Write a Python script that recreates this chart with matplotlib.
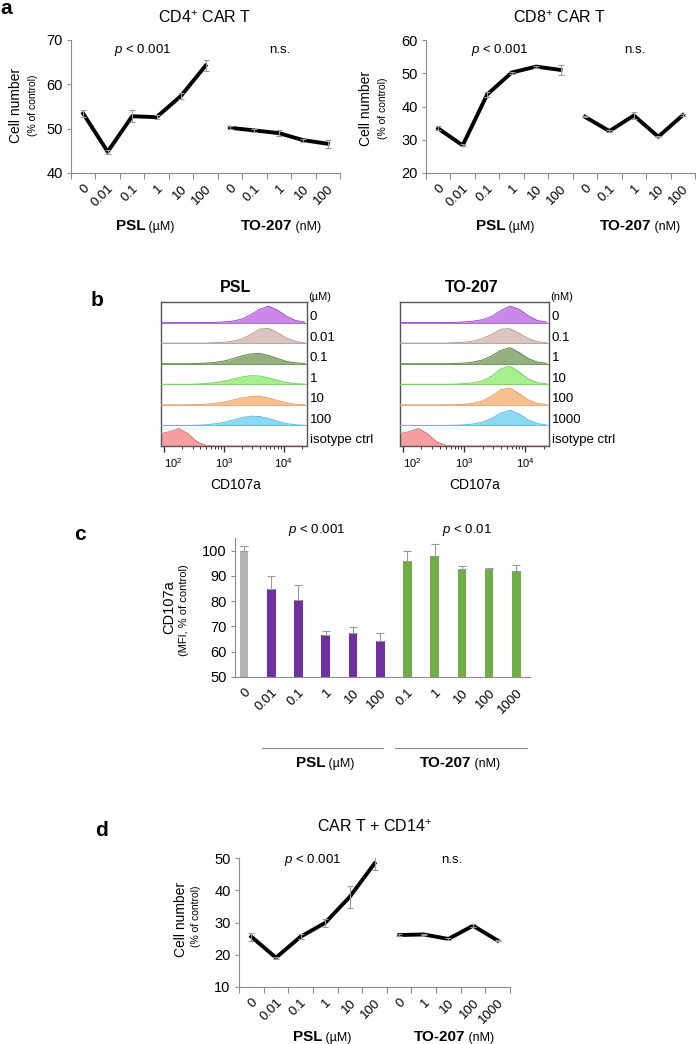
import matplotlib
matplotlib.use('Agg')
import matplotlib.pyplot as plt
import numpy as np
from matplotlib.ticker import FixedLocator, NullFormatter

plt.rcParams['font.family'] = ['Liberation Sans', 'DejaVu Sans']
plt.rcParams['mathtext.fontset'] = 'custom'
plt.rcParams['mathtext.rm'] = 'Liberation Sans'
plt.rcParams['mathtext.it'] = 'Liberation Sans:italic'
plt.rcParams['mathtext.bf'] = 'Liberation Sans:bold'

# ---------------- data ----------------
a_labels = ["0", "0.01", "0.1", "1", "10", "100", "0", "0.1", "1", "10", "100"]
cd4_psl = [53.4, 44.8, 52.8, 52.6, 57.4, 64.2]
cd4_psl_err = [0.7, 0.5, 1.3, 0.5, 0.6, 1.3]
cd4_to = [50.2, 49.6, 49.0, 47.4, 46.6]
cd4_to_err = [0.3, 0.3, 0.6, 0.3, 0.9]

cd8_psl = [33.4, 28.3, 43.6, 50.2, 52.0, 51.0]
cd8_psl_err = [0.6, 0.3, 0.7, 0.3, 0.3, 1.4]
cd8_to = [36.9, 32.6, 37.3, 30.9, 37.4]
cd8_to_err = [0.2, 0.3, 1.0, 0.2, 0.3]

b_psl_rows = ["0", "0.01", "0.1", "1", "10", "100", "isotype ctrl"]
b_to_rows = ["0", "0.1", "1", "10", "100", "1000", "isotype ctrl"]
hist_x = [89, 126, 178, 251, 355, 501, 708, 1000, 1413, 1995, 2818, 3981,
          5623, 7943, 11220, 15849, 22387]
psl_hist = [
    [0, 0, 0, 0, 0, 0, 0.01, 0.03, 0.07, 0.17, 0.38, 0.65, 0.80, 0.60, 0.30, 0.10, 0.03],
    [0, 0, 0, 0, 0, 0, 0.02, 0.04, 0.09, 0.20, 0.42, 0.68, 0.72, 0.50, 0.24, 0.08, 0.02],
    [0, 0, 0, 0, 0.01, 0.03, 0.06, 0.13, 0.24, 0.38, 0.48, 0.50, 0.40, 0.25, 0.11, 0.04, 0.01],
    [0, 0, 0, 0, 0.01, 0.04, 0.08, 0.15, 0.25, 0.36, 0.42, 0.40, 0.31, 0.19, 0.09, 0.03, 0.01],
    [0, 0, 0, 0, 0.01, 0.03, 0.07, 0.13, 0.23, 0.34, 0.41, 0.42, 0.33, 0.21, 0.10, 0.03, 0.01],
    [0, 0, 0, 0, 0.01, 0.03, 0.08, 0.15, 0.26, 0.38, 0.45, 0.43, 0.34, 0.20, 0.09, 0.03, 0.01],
    [0.60, 0.70, 0.85, 0.60, 0.20, 0.03, 0, 0, 0, 0, 0, 0, 0, 0, 0, 0, 0],
]
to_hist = [
    [0, 0, 0, 0, 0, 0, 0.01, 0.03, 0.07, 0.14, 0.30, 0.58, 0.80, 0.65, 0.33, 0.10, 0.03],
    [0, 0, 0, 0, 0, 0, 0.02, 0.04, 0.10, 0.22, 0.42, 0.68, 0.70, 0.48, 0.22, 0.07, 0.02],
    [0, 0, 0, 0, 0, 0, 0.01, 0.03, 0.08, 0.18, 0.38, 0.65, 0.78, 0.55, 0.25, 0.08, 0.02],
    [0, 0, 0, 0, 0, 0, 0.01, 0.03, 0.07, 0.17, 0.40, 0.75, 0.88, 0.60, 0.26, 0.08, 0.02],
    [0, 0, 0, 0, 0, 0, 0.01, 0.03, 0.08, 0.19, 0.42, 0.74, 0.82, 0.55, 0.24, 0.07, 0.02],
    [0, 0, 0, 0, 0, 0, 0.01, 0.03, 0.07, 0.16, 0.34, 0.60, 0.74, 0.56, 0.27, 0.09, 0.02],
    [0.60, 0.70, 0.85, 0.60, 0.20, 0.03, 0, 0, 0, 0, 0, 0, 0, 0, 0, 0, 0],
]
hist_fill = ['#cc88e8', '#dcc4c0', '#93b07e', '#a6ee8e', '#f8c090', '#90d8f2', '#f5a0a0']
hist_edge = ['#a050c8', '#b89c98', '#5f8a48', '#78d060', '#e8a068', '#58c0e8', '#e07070']

c_labels = ["0", "0.01", "0.1", "1", "10", "100", "0.1", "1", "10", "100", "1000"]
c_vals = [100, 85.0, 80.4, 66.8, 67.5, 64.4, 95.8, 98.0, 92.8, 92.8, 91.9]
c_err = [2.0, 4.8, 6.0, 1.3, 2.2, 3.1, 3.9, 4.8, 1.0, 0.4, 2.5]
c_colors = ['#b3b3b3'] + ['#7030a0'] * 5 + ['#70ad47'] * 5

d_labels = ["0", "0.01", "0.1", "1", "10", "100", "0", "1", "10", "100", "1000"]
d_psl = [25.6, 19.1, 25.6, 29.9, 38.0, 48.3]
d_psl_err = [1.2, 0.3, 0.8, 1.2, 3.4, 1.9]
d_to = [26.1, 26.3, 24.9, 29.0, 24.4]
d_to_err = [0.2, 0.2, 0.4, 0.5, 0.2]

# ---------------- layout helpers ----------------
W, H = 696, 1044
fig = plt.figure(figsize=(W / 100, H / 100), dpi=100)
SP = '#8c8c8c'
ERR = '#9a9a9a'


def rect(l, t, r, b):
    return [l / W, 1 - b / H, (r - l) / W, (b - t) / H]


def ftext(x, y, s, **kw):
    return fig.text(x / W, 1 - y / H, s, **kw)


def mixed(xc, yb, bold, normal, bs=11, ns=9):
    r = fig.canvas.get_renderer()
    t1 = ftext(0, yb, bold, fontsize=bs, fontweight='bold', va='baseline', ha='left')
    t2 = ftext(0, yb, ' ' + normal, fontsize=ns, va='baseline', ha='left')
    w1 = t1.get_window_extent(r).width
    w2 = t2.get_window_extent(r).width
    x0 = xc - (w1 + w2) / 2
    t1.set_x(x0 / W)
    t2.set_x((x0 + w1) / W)


def style_line_axes(ax, ylim, yticks, labels):
    ax.set_xlim(-0.5, 10.5)
    ax.set_ylim(*ylim)
    ax.set_yticks(yticks)
    for s in ['top', 'right']:
        ax.spines[s].set_visible(False)
    for s in ['left', 'bottom']:
        ax.spines[s].set_color(SP)
        ax.spines[s].set_linewidth(0.8)
    ax.set_xticks(range(11))
    ax.set_xticklabels(labels, rotation=45, ha='right', rotation_mode='anchor', fontsize=9.5)
    ax.tick_params(axis='x', which='major', length=0, pad=7)
    ax.xaxis.set_minor_locator(FixedLocator(np.arange(-0.5, 11, 1)))
    ax.tick_params(axis='x', which='minor', length=4, color=SP, width=0.8)
    ax.tick_params(axis='y', length=3, color=SP, width=0.8, labelsize=10.5, pad=3)


def draw_lines(ax, psl, psl_err, to, to_err):
    xp = np.arange(6)
    xt = np.arange(6, 11)
    ax.plot(xp, psl, color='black', lw=2.8, zorder=2)
    ax.plot(xt, to, color='black', lw=2.8, zorder=2)
    ax.errorbar(xp, psl, yerr=psl_err, fmt='none', ecolor=ERR, elinewidth=0.8, capsize=2.5, capthick=0.8, zorder=3)
    ax.errorbar(xt, to, yerr=to_err, fmt='none', ecolor=ERR, elinewidth=0.8, capsize=2.5, capthick=0.8, zorder=3)


# ---------------- panel a ----------------
axA1 = fig.add_axes(rect(71, 40, 340, 173))
style_line_axes(axA1, (40, 70), [40, 50, 60, 70], a_labels)
draw_lines(axA1, cd4_psl, cd4_psl_err, cd4_to, cd4_to_err)

axA2 = fig.add_axes(rect(426, 40, 695, 173))
style_line_axes(axA2, (20, 60), [20, 30, 40, 50, 60], a_labels)
draw_lines(axA2, cd8_psl, cd8_psl_err, cd8_to, cd8_to_err)

ftext(6, 8, 'a', fontsize=15, fontweight='bold', ha='center', va='center')
ftext(205, 18, r'CD4$^{+}$ CAR T', fontsize=11.5, ha='center', va='center')
ftext(560, 18, r'CD8$^{+}$ CAR T', fontsize=11.5, ha='center', va='center')
ftext(143, 50, r'$p$ < 0.001', fontsize=9.5, ha='center', va='center')
ftext(280, 50, 'n.s.', fontsize=9.5, ha='center', va='center')
ftext(500, 50, r'$p$ < 0.001', fontsize=9.5, ha='center', va='center')
ftext(635, 50, 'n.s.', fontsize=9.5, ha='center', va='center')
for xa, xb, yc in [(16, 33, 105), (366, 383, 108)]:
    ftext(xa, yc, 'Cell number', fontsize=10, rotation=90, ha='center', va='center')
    ftext(xb, yc, '(% of control)', fontsize=7.5, rotation=90, ha='center', va='center')
mixed(145, 230, 'PSL', '(µM)')
mixed(281, 230, 'TO-207', '(nM)')
mixed(505, 230, 'PSL', '(µM)')
mixed(640, 230, 'TO-207', '(nM)')

# ---------------- panel b ----------------
def draw_hist(ax, rows, labels, unit, title, xlab_px):
    n = len(rows)
    xmin, xmax = 10 ** 1.95, 10 ** 4.39
    for k, vals in enumerate(rows):
        base = n - 1 - k
        v = np.array(vals) + base
        ax.fill_between(hist_x, base, v, color=hist_fill[k], lw=0, zorder=2)
        ax.plot(hist_x, v, color=hist_edge[k], lw=0.7, zorder=3)
        ax.plot([xmin, xmax], [base, base], color=hist_edge[k], lw=0.6, zorder=3)
    ax.set_xscale('log')
    ax.set_xlim(xmin, xmax)
    ax.set_ylim(0, n)
    ax.set_yticks([])
    for s in ax.spines.values():
        s.set_color('#555555')
        s.set_linewidth(1.0)
    ax.set_xticks([1e2, 1e3, 1e4])
    ax.set_xticklabels([r'$10^{2}$', r'$10^{3}$', r'$10^{4}$'], fontsize=8)
    ax.get_xticklabels()[0].set_ha('left')
    ax.xaxis.set_minor_locator(FixedLocator([m * 10 ** e for e in (2, 3, 4) for m in range(2, 10)]))
    ax.xaxis.set_minor_formatter(NullFormatter())
    ax.tick_params(axis='x', which='major', length=4, width=1.0, color='#333333', pad=3)
    ax.tick_params(axis='x', which='minor', length=2, width=0.7, color='#333333')
    for k, lab in enumerate(labels):
        ax.text(1.02, (n - 1 - k + 0.27) / n, lab, transform=ax.transAxes, fontsize=9.5,
                ha='left', va='center')
    ax.text(1.01, 1.035, unit, transform=ax.transAxes, fontsize=8, ha='left', va='center')
    ftext(title[1], 287, title[0], fontsize=11.5, fontweight='bold', ha='center', va='center')
    ftext(xlab_px, 485, 'CD107a', fontsize=10, ha='center', va='center')


axB1 = fig.add_axes(rect(161, 302, 307, 446))
draw_hist(axB1, psl_hist, b_psl_rows, '(µM)', ('PSL', 236), 236)
axB2 = fig.add_axes(rect(400, 302, 549, 446))
draw_hist(axB2, to_hist, b_to_rows, '(nM)', ('TO-207', 472), 475)
ftext(97, 300, 'b', fontsize=15, fontweight='bold', ha='center', va='center')

# ---------------- panel c ----------------
axC = fig.add_axes(rect(235, 538, 530, 677))
xc = np.arange(11)
axC.bar(xc, c_vals, width=0.32, color=c_colors, zorder=2)
axC.errorbar(xc, c_vals, yerr=[np.zeros(11), c_err], fmt='none', ecolor=ERR,
             elinewidth=0.8, capsize=3, capthick=0.8, zorder=3)
axC.set_xlim(-0.33, 10.5)
axC.set_ylim(50, 105)
axC.set_yticks([50, 60, 70, 80, 90, 100])
for s in ['top', 'right']:
    axC.spines[s].set_visible(False)
for s in ['left', 'bottom']:
    axC.spines[s].set_color(SP)
    axC.spines[s].set_linewidth(0.8)
axC.set_xticks(xc)
axC.set_xticklabels(c_labels, rotation=45, ha='right', rotation_mode='anchor', fontsize=9.5)
axC.tick_params(axis='x', length=0, pad=7)
axC.tick_params(axis='y', length=3, color=SP, width=0.8, labelsize=10.5, pad=3)
tr = axC.get_xaxis_transform()
yl = -(748 - 677) / (677 - 538)
axC.plot([0.66, 5.1], [yl, yl], transform=tr, clip_on=False, color=SP, lw=0.8)
axC.plot([5.55, 10.4], [yl, yl], transform=tr, clip_on=False, color=SP, lw=0.8)
mixed(325, 767, 'PSL', '(µM)')
mixed(460, 767, 'TO-207', '(nM)')
ftext(317, 530, r'$p$ < 0.001', fontsize=9.5, ha='center', va='center')
ftext(467, 530, r'$p$ < 0.01', fontsize=9.5, ha='center', va='center')
ftext(169, 607, 'CD107a', fontsize=10.5, rotation=90, ha='center', va='center')
ftext(184, 610, '(MFI, % of control)', fontsize=8, rotation=90, ha='center', va='center')
ftext(80, 534, 'c', fontsize=15, fontweight='bold', ha='center', va='center')

# ---------------- panel d ----------------
axD = fig.add_axes(rect(239, 858, 510, 987))
style_line_axes(axD, (10, 50), [10, 20, 30, 40, 50], d_labels)
draw_lines(axD, d_psl, d_psl_err, d_to, d_to_err)
ftext(101, 830, 'd', fontsize=15, fontweight='bold', ha='center', va='center')
ftext(375, 827, r'CAR T + CD14$^{+}$', fontsize=11.5, ha='center', va='center')
ftext(313, 860, r'$p$ < 0.001', fontsize=9.5, ha='center', va='center')
ftext(452, 860, 'n.s.', fontsize=9.5, ha='center', va='center')
ftext(181, 919, 'Cell number', fontsize=10, rotation=90, ha='center', va='center')
ftext(196, 916, '(% of control)', fontsize=7.5, rotation=90, ha='center', va='center')
mixed(322, 1041, 'PSL', '(µM)')
mixed(454, 1041, 'TO-207', '(nM)')

fig.savefig('out.png', dpi=100)
